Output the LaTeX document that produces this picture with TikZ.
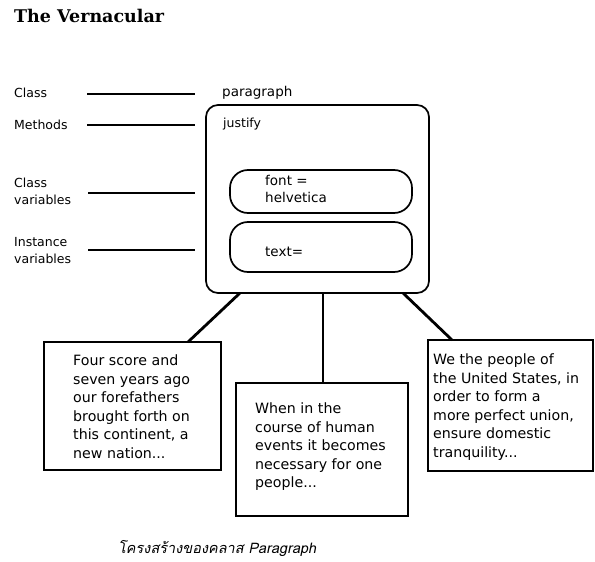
\documentclass[tikz,border=0pt]{standalone}
\usepackage{fontspec}
\setmainfont{DejaVu Sans}
\newfontfamily\titlefont{DejaVu Serif}
\newfontfamily\thaifont[Script=Thai,FakeSlant=0.2]{Loma}
\begin{document}
\begin{tikzpicture}[x=1pt,y=-1pt,
  lead/.style={line width=2.6pt},
  conn/.style={line width=2.8pt},
  boxline/.style={draw, line width=1.7pt, inner sep=0pt, outer sep=0pt},
  roundbox/.style={boxline, rounded corners=14pt},
  lbl/.style={inner sep=0pt, align=left, font=\fontsize{12.5}{17}\selectfont},
  inlbl/.style={inner sep=0pt, align=left, font=\fontsize{13.5}{17}\selectfont},
  body/.style={anchor=north west, inner sep=0pt, align=left, font=\fontsize{14.2}{18.5}\selectfont},
]
\useasboundingbox (0,0) rectangle (595,562);
\node[anchor=base west, inner sep=0pt, font=\titlefont\bfseries\fontsize{17.5}{19}\selectfont] (title) at (14,23) {The Vernacular};

% left labels
\node[lbl, anchor=base west] (lclass) at (14,97) {Class};
\node[lbl, anchor=base west] (lmeth) at (14,129) {Methods};
\node[lbl, anchor=north west] (lcv) at (14,178) {Class\\variables};
\node[lbl, anchor=north west] (liv) at (14,237) {Instance\\variables};

\coordinate (a1) at (87,94);  \coordinate (b1) at (195,94);
\coordinate (a2) at (87,125); \coordinate (b2) at (195,125);
\coordinate (a3) at (88,193); \coordinate (b3) at (195,193);
\coordinate (a4) at (88,250); \coordinate (b4) at (195,250);
\draw[lead] (a1) -- (b1);
\draw[lead] (a2) -- (b2);
\draw[lead] (a3) -- (b3);
\draw[lead] (a4) -- (b4);

% class box
\node[inlbl, anchor=base west] (pname) at (222,96) {paragraph};
\node[roundbox, rounded corners=12pt, minimum width=223pt, minimum height=188pt] (cls) at (317.5,199) {};
\node[lbl, anchor=base west] (meth) at (223,127) {justify};
\node[roundbox, rounded corners=18pt, minimum width=182pt, minimum height=43pt] (cvbox) at (321,191.5) {};
\node[inlbl, anchor=north west] (cvtext) at (265,175) {font =\\helvetica};
\node[roundbox, rounded corners=18pt, minimum width=182pt, minimum height=50pt] (ivbox) at (321,247) {};
\node[inlbl, anchor=base west] (ivtext) at (265,256) {text=};

% instance boxes
\node[boxline, minimum width=177pt, minimum height=128pt] (lbox) at (132.5,406) {};
\node[boxline, minimum width=172pt, minimum height=133pt] (mbox) at (322,449.5) {};
\node[boxline, minimum width=165pt, minimum height=131pt] (rbox) at (510.5,405.5) {};

\node[body] (ltext) at (73,355) {Four score and\\seven years ago\\our forefathers\\brought forth on\\this continent, a\\new nation...};
\node[body] (mtext) at (255,403) {When in the\\course of human\\events it becomes\\necessary for one\\people...};
\node[body] (rtext) at (433,354) {We the people of\\the United States, in\\order to form a\\more perfect union,\\ensure domestic\\tranquility...};

\draw[conn] ([xshift=-77.5pt]cls.south) -- ([xshift=55.5pt]lbox.north);
\draw[conn] ([xshift=5.5pt]cls.south) -- ([xshift=1pt]mbox.north);
\draw[conn] ([xshift=85.5pt]cls.south) -- ([xshift=-58.5pt]rbox.north);

\node[anchor=base west, inner sep=0pt, font=\thaifont\fontsize{14.5}{16}\selectfont] (cap) at (118,553) {โครงสร้างของคลาส Paragraph};
\end{tikzpicture}
\end{document}
